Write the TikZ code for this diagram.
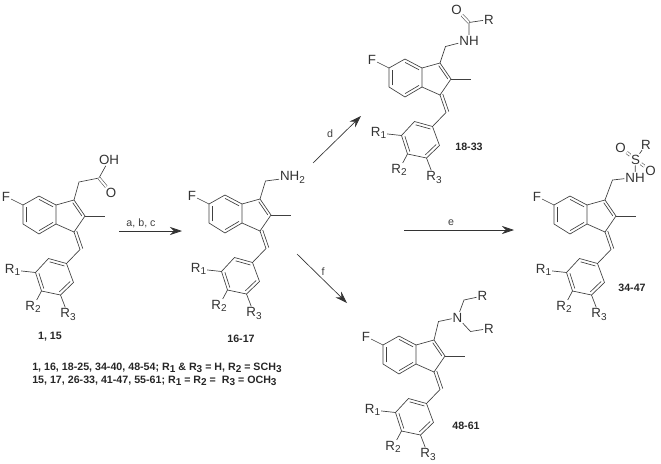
\documentclass[tikz,border=0pt]{standalone}
\usepackage{fontspec}
\setmainfont{Liberation Sans}
\usetikzlibrary{arrows.meta,calc}

\newcommand{\sbs}[1]{\raisebox{-.4ex}{\fontsize{7.5}{8}\selectfont #1}}
\newcommand{\inner}[3]{\draw[bond] ($(#1)!.18!(#3)$) -- ($(#2)!.18!(#3)$);}

\tikzset{
  bond/.style={line width=.5pt,draw=black!75},
  dbond/.style={line width=.4pt,draw=black!75,double=white,double distance=1.5pt},
  atom/.style={inner sep=.6pt,text=black!80,font=\fontsize{10}{12}\selectfont},
  cmpd/.style={inner sep=0pt,text=black!85,font=\fontsize{8}{10}\selectfont\bfseries},
  rlabel/.style={inner sep=0pt,text=black!75,font=\fontsize{8}{10}\selectfont},
  rxn/.style={line width=.5pt,draw=black!80,-{Stealth[length=9pt,width=6pt,inset=3pt]}},
  pics/indene/.style={code={
    % Skeleton, placed as compound 1
    \coordinate (-c6) at (23,205);
    \coordinate (-c7) at (39,196);
    \coordinate (-c7a) at (56,205);
    \coordinate (-c3a) at (56,224);
    \coordinate (-c4) at (39,234);
    \coordinate (-c5) at (23,224);
    \coordinate (-c1) at (74,200);
    \coordinate (-c2) at (85,216);
    \coordinate (-c3) at (74,232);
    \coordinate (-me) at (105,216);
    \coordinate (-ch) at (80,249.5);
    \coordinate (-p1) at (66.5,263.5);
    \coordinate (-p2) at (48.5,258.5);
    \coordinate (-p3) at (35.5,272.5);
    \coordinate (-p4) at (41.5,291);
    \coordinate (-p5) at (60.5,295);
    \coordinate (-p6) at (73.5,282.5);
    \coordinate (-bz) at (39.5,215);
    \coordinate (-cp) at (67,215);
    \coordinate (-ar) at (54.5,277);
    \node[atom] (-F) at (6,196.5) {F};
    \node[atom] (-R1) at (12.5,270) {R\sbs{1}};
    \node[atom] (-R2) at (33,307) {R\sbs{2}};
    \node[atom] (-R3) at (68,314.5) {R\sbs{3}};
    % Rings
    \draw[bond] (-c6) -- (-c7) -- (-c7a) -- (-c3a) -- (-c4) -- (-c5) -- cycle;
    \draw[bond] (-c7a) -- (-c1) -- (-c2) -- (-c3) -- (-c3a);
    \draw[bond] (-p1) -- (-p2) -- (-p3) -- (-p4) -- (-p5) -- (-p6) -- cycle;
    \inner{-c7}{-c7a}{-bz}
    \inner{-c3a}{-c4}{-bz}
    \inner{-c5}{-c6}{-bz}
    \inner{-c1}{-c2}{-cp}
    \inner{-p1}{-p2}{-ar}
    \inner{-p3}{-p4}{-ar}
    \inner{-p5}{-p6}{-ar}
    % Substituents
    \draw[bond] (-F) -- (-c6);
    \draw[bond] (-c2) -- (-me);
    \draw[bond] (-c3) -- (-ch) -- (-p1);
    \draw[bond] ($(-c3)!2.2pt!90:(-ch)$) -- ($(-ch)!2.2pt!-90:(-c3)$);
    \draw[bond] (-p3) -- (-R1);
    \draw[bond] (-p4) -- (-R2);
    \draw[bond] (-p5) -- (-R3);
  }}
}

\begin{document}
\begin{tikzpicture}[x=.75pt,y=-.75pt]
  \useasboundingbox (0,0) rectangle (661,464);
  % Compounds
  \pic (sA) at (0,0) {indene};
  \pic (sB) at (186,-1) {indene};
  \pic (sC) at (366,-137) {indene};
  \pic (sD) at (531,0) {indene};
  \pic (sE) at (360,140) {indene};
  % Side chain of 1, 15
  \coordinate (aCH) at (79,182);
  \coordinate (aCO) at (99,178);
  \node[atom] (aO) at (111,192.5) {O};
  \node[atom] (aOH) at (109,160) {OH};
  \draw[bond] (sA-c1) -- (aCH) -- (aCO) -- (aOH);
  \draw[dbond] (aCO) -- (aO);
  % Side chain of 16-17
  \coordinate (bCH) at (265.5,181);
  \node[atom,anchor=west] (bN) at (279,177.5) {NH\sbs{2}};
  \draw[bond] (sB-c1) -- (bCH) -- (bN);
  % Side chain of 18-33
  \coordinate (cCH) at (445.5,46.5);
  \coordinate (cCO) at (469,22.5);
  \node[atom] (cN) at (469,40.5) {NH};
  \node[atom] (cO) at (456.5,9.5) {O};
  \node[atom] (cR) at (489,19.5) {R};
  \draw[bond] (sC-c1) -- (cCH) -- (cN) -- (cCO) -- (cR);
  \draw[dbond] (cCO) -- (cO);
  % Side chain of 34-47
  \coordinate (dCH) at (612.5,180);
  \node[atom] (dN) at (635,177.5) {NH};
  \node[atom] (dS) at (635.5,159.5) {S};
  \node[atom] (dO1) at (620.5,147.5) {O};
  \node[atom] (dO2) at (650.5,171) {O};
  \node[atom] (dR) at (646,144.5) {R};
  \draw[bond] (sD-c1) -- (dCH) -- (dN) -- (dS) -- (dR);
  \draw[dbond] (dS) -- (dO1);
  \draw[dbond] (dS) -- (dO2);
  % Side chain of 48-61
  \coordinate (eCH) at (438.5,321.5);
  \coordinate (eC1) at (464,300);
  \coordinate (eC2) at (470.5,331.5);
  \node[atom] (eN) at (457.5,317.5) {N};
  \node[atom] (eR1) at (482.5,296) {R};
  \node[atom] (eR2) at (489,328.5) {R};
  \draw[bond] (sE-c1) -- (eCH) -- (eN) -- (eC1) -- (eR1);
  \draw[bond] (eN) -- (eC2) -- (eR2);
  % Reaction arrows
  \coordinate (a0) at (119,231);
  \coordinate (a1) at (182,231);
  \coordinate (d0) at (313,163);
  \coordinate (d1) at (361,116);
  \coordinate (e0) at (404,230);
  \coordinate (e1) at (514,230);
  \coordinate (f0) at (297,254);
  \coordinate (f1) at (347,303);
  \draw[rxn] (a0) -- (a1);
  \draw[rxn] (d0) -- (d1);
  \draw[rxn] (e0) -- (e1);
  \draw[rxn] (f0) -- (f1);
  \node[rlabel] (la) at (141,223) {a, b, c};
  \node[rlabel] (ld) at (330,134) {d};
  \node[rlabel] (le) at (451,223) {e};
  \node[rlabel] (lf) at (323,272) {f};
  % Labels
  \node[cmpd] (n1) at (50,337) {1, 15};
  \node[cmpd] (n2) at (241,339) {16-17};
  \node[cmpd] (n3) at (469,147) {18-33};
  \node[cmpd] (n4) at (632,288) {34-47};
  \node[cmpd] (n5) at (466,426) {48-61};
  \node[cmpd,anchor=west] (t1) at (32,368) {1, 16, 18-25, 34-40, 48-54; R\sbs{1} \& R\sbs{3} = H, R\sbs{2} = SCH\sbs{3}};
  \node[cmpd,anchor=west] (t2) at (32,381) {15, 17, 26-33, 41-47, 55-61; R\sbs{1} = R\sbs{2} = \ R\sbs{3} = OCH\sbs{3}};
\end{tikzpicture}
\end{document}
